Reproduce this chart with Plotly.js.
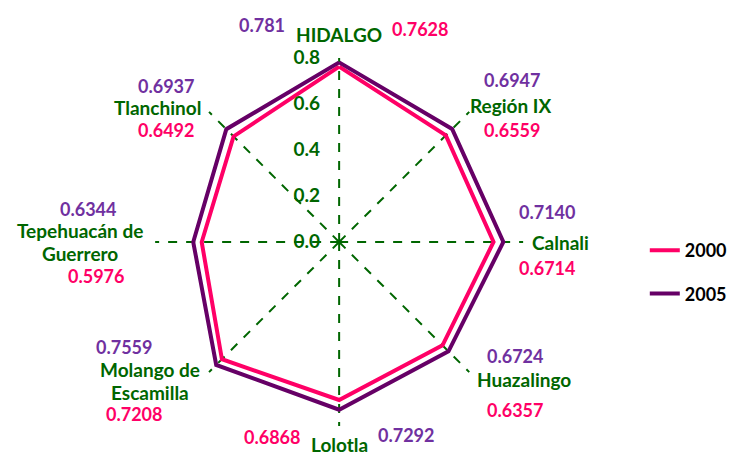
<!DOCTYPE html>
<html>
<head>
<meta charset="utf-8">
<script src="https://cdn.plot.ly/plotly-3.0.1.min.js"></script>
<style>html,body{margin:0;padding:0;background:#fff}#chart{width:732px;height:456px}</style>
</head>
<body>
<div id="chart"></div>
<script>
// ---- data ----
var categories = ["HIDALGO", "Región IX", "Calnali", "Huazalingo", "Lolotla", "Molango de Escamilla", "Tepehuacán de Guerrero", "Tlanchinol"];
var categoryLabels = [["HIDALGO"], ["Región IX"], ["Calnali"], ["Huazalingo"], ["Lolotla"], ["Molango de", "Escamilla"], ["Tepehuacán de", "Guerrero"], ["Tlanchinol"]];
var values2000 = [0.7628, 0.6559, 0.6714, 0.6357, 0.6868, 0.7208, 0.5976, 0.6492];
var values2005 = [0.781, 0.6947, 0.7140, 0.6724, 0.7292, 0.7559, 0.6344, 0.6937];
var labels2000 = ["0.7628", "0.6559", "0.6714", "0.6357", "0.6868", "0.7208", "0.5976", "0.6492"];
var labels2005 = ["0.781", "0.6947", "0.7140", "0.6724", "0.7292", "0.7559", "0.6344", "0.6937"];
var seriesNames = ["2000", "2005"];
var radialTicks = [0, 0.2, 0.4, 0.6, 0.8];

// ---- styling / layout positions (pixels) ----
var W = 732, H = 456;
var GREEN = "#006600", PINK = "#FF0066", PURPLE = "#660066", PURPLE_TXT = "#7030A0";
var FONT = "Lato, 'Open Sans', sans-serif";
var FS_CAT = 19, FS_VAL = 18, FS_TICK = 19, FS_LEG = 18;
// label positions: cat center (first line), 2005 value center, 2000 value center
var pos = [
  {c:[341,34], p:[263,25], k:[422,29]},
  {c:[513,105], p:[515,80], k:[515,130]},
  {c:[564,242], p:[550,212], k:[550,268]},
  {c:[527,379], p:[518,356], k:[518,410]},
  {c:[341,444], p:[408,435], k:[273,437]},
  {c:[151,369], p:[125,347], k:[135,414]},
  {c:[80,231], p:[88,209], k:[97,276]},
  {c:[158,107], p:[167,86], k:[167,130]}
];
function px(x){return x/W;}
function py(y){return 1-y/H;}

var annotations = [];
categories.forEach(function(cat,i){
  categoryLabels[i].forEach(function(line,j){
    annotations.push({xref:"paper",yref:"paper",x:px(pos[i].c[0]),y:py(pos[i].c[1]+j*23),
      text:line,showarrow:false,xanchor:"center",yanchor:"middle",
      font:{family:FONT,size:FS_CAT,color:GREEN,weight:"bold"}});
  });
  annotations.push({xref:"paper",yref:"paper",x:px(pos[i].p[0]),y:py(pos[i].p[1]),
    text:labels2005[i],showarrow:false,xanchor:"center",yanchor:"middle",
    font:{family:FONT,size:FS_VAL,color:PURPLE_TXT,weight:"bold"}});
  annotations.push({xref:"paper",yref:"paper",x:px(pos[i].k[0]),y:py(pos[i].k[1]),
    text:labels2000[i],showarrow:false,xanchor:"center",yanchor:"middle",
    font:{family:FONT,size:FS_VAL,color:PINK,weight:"bold"}});
});

function closed(a){return a.concat([a[0]]);}
var traces = [
  {type:"scatterpolar",mode:"lines",name:seriesNames[0],legendgroup:"a",
   r:closed(values2000),theta:closed(categories),line:{color:PINK,width:4}},
  {type:"scatterpolar",mode:"lines",name:seriesNames[1],legendgroup:"b",
   r:closed(values2005),theta:closed(categories),line:{color:PURPLE,width:4}}
];

var cx=341, cy=242, R=185;
var layout = {
  width:W,height:H,margin:{l:0,r:0,t:0,b:0},
  paper_bgcolor:"#fff",
  font:{family:FONT,size:FS_CAT},
  polar:{
    domain:{x:[(cx-R)/W,(cx+R)/W],y:[(H-cy-R)/H,(H-cy+R)/H]},
    bgcolor:"#fff",
    angularaxis:{type:"category",rotation:90,direction:"clockwise",categoryorder:"array",categoryarray:categories,
      showticklabels:false,ticks:"",showline:false,showgrid:true,gridcolor:GREEN,gridwidth:2,griddash:"dash"},
    radialaxis:{range:[0,0.8],tickvals:radialTicks,tickformat:".1f",angle:90,side:"counterclockwise",tickangle:90,
      showline:false,showgrid:false,
      ticks:"outside",ticklen:12,tickcolor:"rgba(0,0,0,0)",
      tickfont:{family:FONT,size:FS_TICK,color:GREEN,weight:"bold"}}
  },
  showlegend:true,
  legend:{x:652/W - 0.005,xanchor:"left",y:py(232),yanchor:"top",tracegroupgap:17,
    font:{family:FONT,size:FS_LEG,color:"#000",weight:"bold"},bgcolor:"rgba(0,0,0,0)"},
  annotations:annotations
};
Plotly.newPlot("chart",traces,layout,{displayModeBar:false,staticPlot:true});
</script>
</body>
</html>
